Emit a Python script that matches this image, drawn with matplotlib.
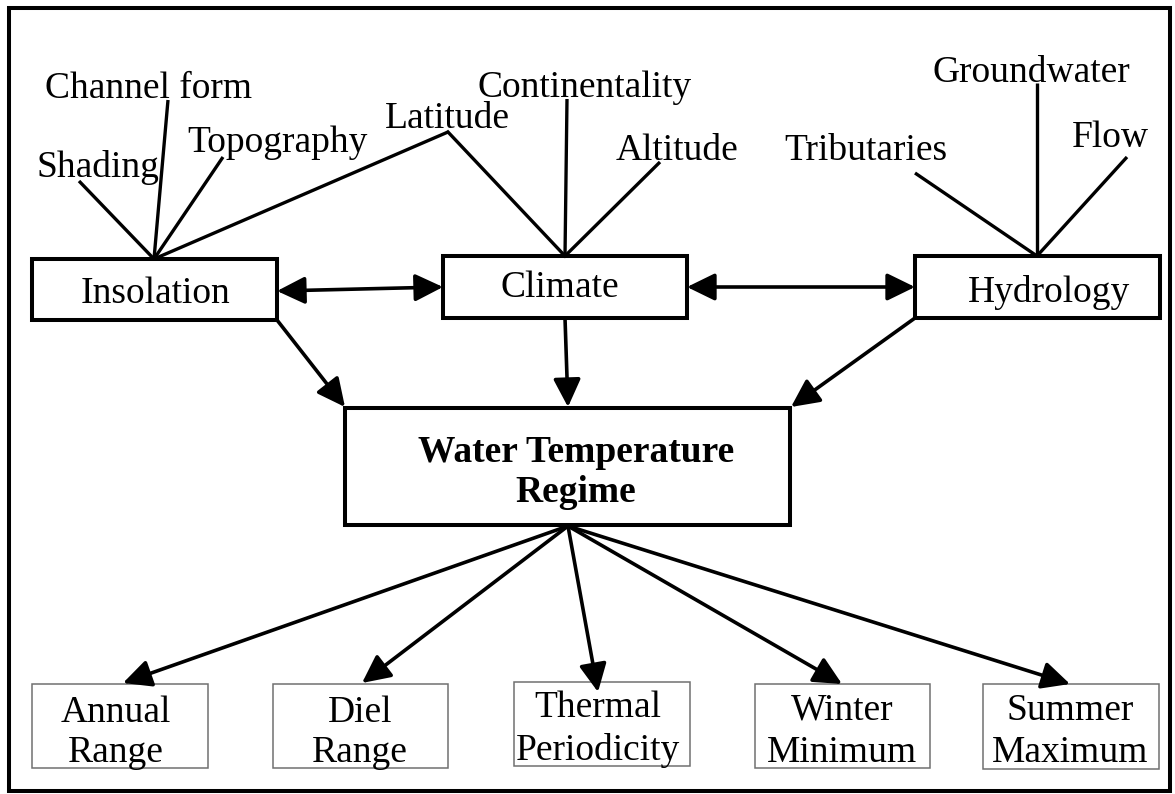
import matplotlib
matplotlib.use("Agg")
import matplotlib.pyplot as plt
from matplotlib.patches import Rectangle

plt.rcParams['font.family'] = ['Liberation Serif', 'DejaVu Serif']

# ---- diagram content ----
factor_labels = ["Shading", "Channel form", "Topography", "Latitude",
                 "Continentality", "Altitude", "Tributaries", "Groundwater", "Flow"]
driver_labels = ["Insolation", "Climate", "Hydrology"]
center_label = ["Water Temperature", "Regime"]
outcome_labels = [["Annual", "Range"], ["Diel", "Range"], ["Thermal", "Periodicity"],
                  ["Winter", "Minimum"], ["Summer", "Maximum"]]

# ---- layout (pixel coordinates, y downward) ----
factor_text = {  # (x center, baseline)
    "Shading": (98, 177), "Channel form": (149, 98), "Topography": (277, 152),
    "Latitude": (447, 128), "Continentality": (585, 97), "Altitude": (677, 160),
    "Tributaries": (866, 160), "Groundwater": (1031, 82), "Flow": (1110, 147)}
factor_end = {
    "Shading": (79, 181), "Channel form": (168, 100), "Topography": (223, 157),
    "Latitude": (448, 132), "Continentality": (567, 99), "Altitude": (660, 162),
    "Tributaries": (915, 173), "Groundwater": (1037, 83), "Flow": (1127, 157)}
factor_parent = {"Shading": "Insolation", "Channel form": "Insolation",
                 "Topography": "Insolation", "Latitude": "Insolation",
                 "Continentality": "Climate", "Altitude": "Climate",
                 "Tributaries": "Hydrology", "Groundwater": "Hydrology", "Flow": "Hydrology"}
driver_box = {"Insolation": (32, 259, 277, 320), "Climate": (443, 256, 687, 318),
              "Hydrology": (915, 256, 1160, 318)}
driver_node = {"Insolation": (154, 259), "Climate": (565, 256), "Hydrology": (1037, 256)}
driver_text = {"Insolation": (155, 303), "Climate": (560, 297), "Hydrology": (1049, 302)}
center_box = (345, 408, 790, 525)
center_text = [(576, 462), (576, 502)]
outcome_box = [(32, 684, 208, 768), (273, 684, 448, 768), (514, 682, 690, 766),
               (755, 684, 930, 768), (983, 684, 1159, 769)]
outcome_text = [[(116, 722), (116, 762)], [(360, 722), (360, 762)],
                [(598, 717), (598, 760)], [(842, 720), (842, 762)],
                [(1070, 720), (1070, 762)]]
outcome_tip = [(123, 683), (362, 683), (598, 692), (842, 684), (1070, 684)]

W, H, DPI = 1175, 794, 100
fig = plt.figure(figsize=(W / DPI, H / DPI), dpi=DPI)
ax = fig.add_axes([0, 0, 1, 1])
ax.set_xlim(0, W)
ax.set_ylim(H, 0)
ax.axis("off")

FS = 27
LW = 2.9

# outer border
ax.add_patch(Rectangle((9, 8), 1161, 783, fill=False, lw=LW, ec="black"))

# fan lines
for f in factor_labels:
    p = driver_node[factor_parent[f]]
    e = factor_end[f]
    ax.plot([p[0], e[0]], [p[1], e[1]], color="black", lw=LW - 0.5,
            solid_capstyle="butt")
# latitude also feeds climate
lat = factor_end["Latitude"]
cn = driver_node["Climate"]
ax.plot([lat[0], cn[0]], [lat[1], cn[1]], color="black", lw=LW - 0.5)

for f in factor_labels:
    x, y = factor_text[f]
    ax.text(x, y, f, fontsize=FS, ha="center", va="baseline")

# driver boxes
for d in driver_labels:
    x0, y0, x1, y1 = driver_box[d]
    ax.add_patch(Rectangle((x0, y0), x1 - x0, y1 - y0, fill=False, lw=LW, ec="black"))
    x, y = driver_text[d]
    ax.text(x, y, d, fontsize=FS, ha="center", va="baseline")

# center box
x0, y0, x1, y1 = center_box
ax.add_patch(Rectangle((x0, y0), x1 - x0, y1 - y0, fill=False, lw=LW, ec="black"))
for s, (x, y) in zip(center_label, center_text):
    ax.text(x, y, s, fontsize=FS, ha="center", va="baseline", fontweight="bold")

# outcome boxes
for lab, box, tpos in zip(outcome_labels, outcome_box, outcome_text):
    x0, y0, x1, y1 = box
    ax.add_patch(Rectangle((x0, y0), x1 - x0, y1 - y0, fill=False, lw=1.1, ec="#707070"))
    for s, (x, y) in zip(lab, tpos):
        ax.text(x, y, s, fontsize=FS, ha="center", va="baseline")

arrow_kw = dict(arrowstyle="-|>,head_length=0.45,head_width=0.22", color="black",
                lw=LW - 0.3, shrinkA=0, shrinkB=0, mutation_scale=38)
dbl_kw = dict(arrow_kw, arrowstyle="<|-|>,head_length=0.45,head_width=0.22")

def arrow(p0, p1, kw=arrow_kw):
    ax.annotate("", xy=p1, xytext=p0, arrowprops=kw, zorder=5)

# double arrows between drivers
arrow((277, 291), (443, 287), dbl_kw)
arrow((687, 287), (915, 287), dbl_kw)

# drivers -> center
arrow((277, 320), (345, 407))
arrow((565, 318), (568, 407))
arrow((915, 318), (791, 407))

# center -> outcomes
hub = (568, 526)
for tip in outcome_tip:
    arrow(hub, tip)

fig.savefig("out.png", dpi=DPI, facecolor="white")
